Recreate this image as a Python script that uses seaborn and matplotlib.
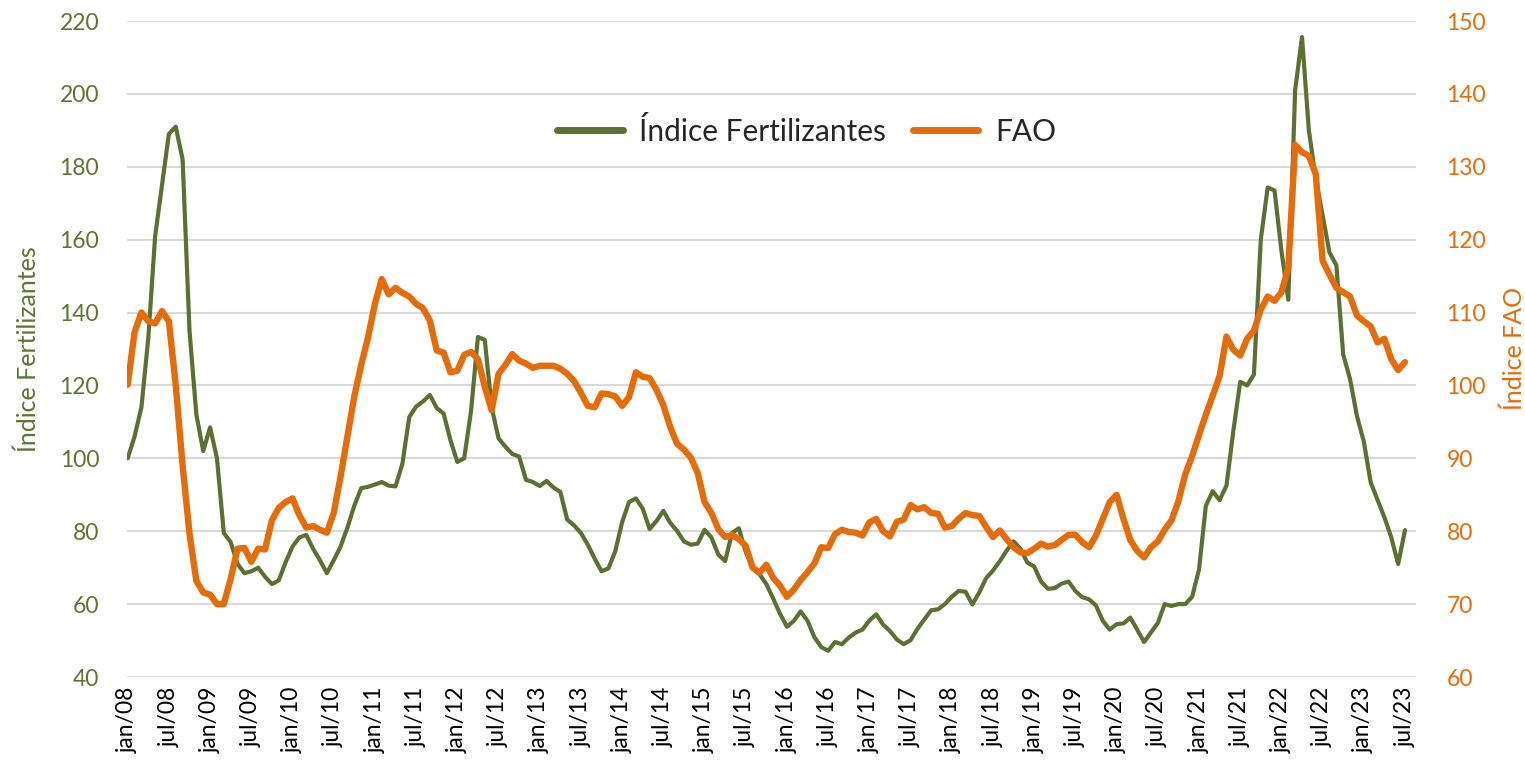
import matplotlib
matplotlib.use("Agg")
import matplotlib.pyplot as plt
import seaborn as sns
import pandas as pd
import numpy as np

# ---- data (monthly, jan/08 .. jul/23) ----
fert = [
    100, 106, 114, 133, 161, 175, 189, 191, 182, 135, 112, 102,
    108.5, 100, 79.5, 77, 71, 68.5, 69, 70, 67.5, 65.5, 66.5, 71.5,
    75.8, 78.3, 79, 75.2, 72, 68.5, 72, 75.8, 81, 87, 91.8, 92.2,
    92.8, 93.5, 92.5, 92.3, 98.5, 111.3, 114.2, 115.6, 117.4, 113.8, 112.3, 105,
    99, 100, 113, 133.3, 132.5, 114, 105.5, 103.2, 101.2, 100.5, 94.1, 93.5,
    92.4, 93.8, 92, 90.8, 83.2, 81.6, 79.5, 76.3, 72.5, 69, 69.8, 74.5,
    82.5, 88, 89, 86.2, 80.6, 82.8, 85.6, 82.3, 80.1, 77.2, 76.3, 76.6,
    80.4, 78.3, 73.6, 71.8, 79.5, 80.8, 74.3, 70, 68.2, 65.5, 61.5, 57.3,
    53.8, 55.4, 58, 55.4, 50.9, 48.2, 47.2, 49.6, 49, 50.8, 52.2, 53,
    55.5, 57.2, 54.4, 52.6, 50.3, 49, 50.1, 53.2, 55.8, 58.3, 58.6, 60,
    62, 63.6, 63.4, 59.9, 63.2, 67.1, 69.2, 71.8, 74.7, 77.2, 75.2, 71.4,
    70.3, 66.2, 64.2, 64.4, 65.6, 66.2, 63.6, 61.9, 61.3, 59.6, 55.4, 53,
    54.5, 54.7, 56.3, 53, 49.6, 52.2, 54.8, 60, 59.5, 60, 60, 62,
    69.5, 87, 91, 88.5, 92.5, 107.5, 121, 120, 123, 160, 174.3, 173.5,
    157, 143.5, 201, 215.6, 190, 176.7, 166.7, 156.5, 153, 128.5, 121.7, 111.6,
    104.6, 93.4, 88.6, 83.8, 78.3, 71, 80.3,
]

fao = [
    100.1, 107.3, 110, 108.8, 108.5, 110.2, 108.8, 100, 89, 79.7, 73.2, 71.6,
    71.3, 70, 70, 73.5, 77.6, 77.7, 75.8, 77.6, 77.5, 81.5, 83.2, 84,
    84.5, 82.2, 80.5, 80.7, 80.2, 79.8, 82.5, 87.5, 93, 98.5, 102.8, 106.6,
    111.2, 114.6, 112.5, 113.4, 112.7, 112.2, 111.2, 110.6, 108.9, 104.8, 104.5, 101.8,
    102, 104.2, 104.6, 103.6, 99.8, 96.6, 101.6, 102.8, 104.3, 103.4, 103, 102.4,
    102.7, 102.7, 102.7, 102.3, 101.6, 100.6, 99, 97.2, 97, 98.9, 98.8, 98.5,
    97.2, 98.4, 101.8, 101.2, 101, 99.4, 97.3, 94.3, 92, 91.2, 90.1, 88,
    84, 82.5, 80.3, 79.2, 79.5, 78.9, 78, 75, 74.3, 75.4, 73.6, 72.5,
    71, 72, 73.3, 74.4, 75.6, 77.8, 77.7, 79.6, 80.2, 79.9, 79.8, 79.4,
    81.2, 81.7, 80, 79.3, 81.3, 81.6, 83.6, 83, 83.3, 82.5, 82.4, 80.5,
    80.7, 81.7, 82.5, 82.2, 82.1, 80.6, 79.2, 80.1, 78.9, 77.8, 77.1, 77,
    77.6, 78.3, 77.9, 78.1, 78.8, 79.5, 79.5, 78.5, 77.8, 79.4, 81.7, 84,
    85, 81.7, 78.8, 77.3, 76.4, 77.8, 78.6, 80.2, 81.5, 84.1, 87.8, 90.3,
    93.2, 96, 98.6, 101.3, 106.7, 104.9, 104.1, 106.4, 107.5, 110.4, 112.2, 111.6,
    112.8, 116.1, 133, 132, 131.5, 129, 117.1, 115.2, 113.4, 112.8, 112.2, 109.6,
    108.8, 108.1, 105.9, 106.4, 103.6, 102.1, 103.2,
]

month_abbr = ["jan", "jul"]
years = list(range(2008, 2024))
tick_labels = [f"{m}/{str(y)[2:]}" for y in years for m in month_abbr]
left_ticks = list(range(40, 221, 20))
right_ticks = list(range(60, 151, 10))

GREEN = "#5B7032"
GREEN_TXT = "#5E7532"
ORANGE = "#E46C0A"

df = pd.DataFrame({"m": np.arange(len(fert)), "fert": fert, "fao": fao})

sns.set_theme(style="white")
plt.rcParams["font.family"] = ["Lato", "DejaVu Sans"]

fig = plt.figure(figsize=(15.25, 7.65), dpi=100)
ax = fig.add_axes([127 / 1525, 1 - 677 / 765, (1416 - 127) / 1525, (677 - 21) / 765])
ax2 = ax.twinx()

sns.lineplot(data=df, x="m", y="fert", ax=ax, color=GREEN, linewidth=3.0,
             label="Índice Fertilizantes", legend=False)
sns.lineplot(data=df, x="m", y="fao", ax=ax2, color=ORANGE, linewidth=4.6,
             label="FAO", legend=False, solid_capstyle="round")

ax.set_xlim(-0.1, 187.6)
ax.set_ylim(40, 220)
ax2.set_ylim(60, 150)
ax.set_yticks(left_ticks)
ax2.set_yticks(right_ticks)
xt = np.arange(0, len(fert), 6)
ax.set_xticks(xt)
ax.set_xticklabels(tick_labels[:len(xt)], rotation=90, fontsize=16.5, color="black")

ax.yaxis.grid(True, color="#D9D9D9", linewidth=1.5)
ax.xaxis.grid(False)
ax2.grid(False)
for a in (ax, ax2):
    for s in a.spines.values():
        s.set_visible(False)
    a.tick_params(length=0)

ax.tick_params(axis="y", labelsize=16.5, labelcolor=GREEN_TXT, pad=20)
ax2.tick_params(axis="y", labelsize=16.5, labelcolor=ORANGE, pad=22)
ax.tick_params(axis="x", pad=7)

ax.set_xlabel("")
ax.set_ylabel("Índice Fertilizantes", fontsize=18, color=GREEN_TXT, labelpad=14)
ax2.set_ylabel("Índice FAO", fontsize=18, color=ORANGE, labelpad=12)

h1, l1 = ax.get_legend_handles_labels()
h2, l2 = ax2.get_legend_handles_labels()
leg = ax2.legend(h1 + h2, l1 + l2, loc="center", bbox_to_anchor=(0.527, 0.832),
                 ncol=2, frameon=False, fontsize=21.5, handlelength=2.2,
                 handletextpad=0.55, columnspacing=0.9)
for line in leg.get_lines():
    line.set_linewidth(5)
    line.set_solid_capstyle("round")

fig.savefig("out.png", dpi=100)
